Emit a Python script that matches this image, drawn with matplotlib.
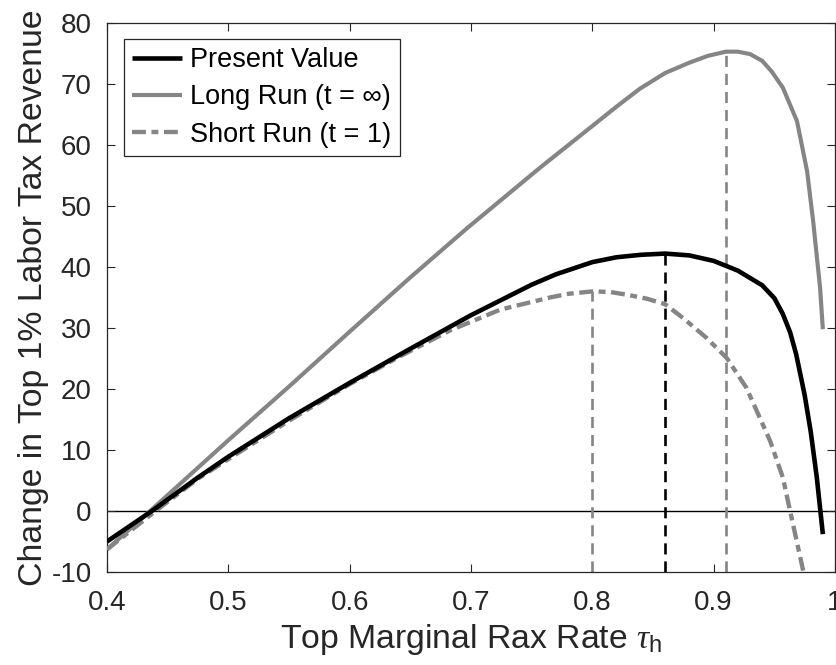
import matplotlib
matplotlib.use("Agg")
import matplotlib.pyplot as plt

plt.rcParams['font.family'] = ['Liberation Sans', 'DejaVu Sans']
plt.rcParams['axes.unicode_minus'] = False
plt.rcParams['lines.scale_dashes'] = False
plt.rcParams['mathtext.fontset'] = 'custom'
plt.rcParams['mathtext.rm'] = 'Liberation Sans'
plt.rcParams['mathtext.it'] = 'Liberation Serif:italic'

# ---- data ----
pv_x = [0.40, 0.437, 0.475, 0.50, 0.55, 0.60, 0.65, 0.70, 0.75, 0.77, 0.80, 0.82,
        0.84, 0.86, 0.88, 0.90, 0.92, 0.94, 0.95, 0.957, 0.963, 0.968, 0.975,
        0.98, 0.985, 0.99]
pv_y = [-5.0, 0.0, 5.5, 8.9, 15.2, 21.0, 26.6, 32.1, 37.1, 38.8, 40.8, 41.6,
        42.0, 42.2, 41.9, 41.0, 39.4, 37.0, 34.9, 32.3, 29.3, 25.7, 19.0,
        13.0, 5.5, -3.8]

lr_x = [0.40, 0.4355, 0.50, 0.55, 0.60, 0.65, 0.697, 0.757, 0.798, 0.82, 0.839,
        0.86, 0.88, 0.895, 0.91, 0.92, 0.93, 0.94, 0.948, 0.957, 0.9687, 0.977,
        0.982, 0.9877, 0.99]
lr_y = [-6.3, 0.0, 11.6, 20.4, 29.4, 38.3, 46.4, 56.3, 62.8, 66.3, 69.2,
        71.8, 73.5, 74.6, 75.3, 75.3, 74.9, 73.8, 72.0, 69.4, 63.9, 55.7,
        47.5, 36.6, 29.8]

sr_x = [0.40, 0.44, 0.475, 0.50, 0.55, 0.60, 0.64, 0.6827, 0.724, 0.765, 0.78,
        0.80, 0.815, 0.83, 0.845, 0.86, 0.875, 0.894, 0.9107, 0.927, 0.9465,
        0.957, 0.963, 0.974, 0.98]
sr_y = [-6.3, 0.0, 5.3, 8.5, 14.8, 20.8, 25.2, 29.6, 33.0, 35.0, 35.6,
        36.0, 35.9, 35.4, 34.8, 33.9, 31.6, 28.4, 25.1, 20.2, 11.5,
        5.5, 0.0, -10.0, -17.0]

peak_x = [0.80, 0.86, 0.91]          # short run, present value, long run maxima
peak_y = [36.0, 42.2, 75.3]

labels = ['Present Value', 'Long Run (t = \u221e)', 'Short Run (t = 1)']
xticks = [0.4, 0.5, 0.6, 0.7, 0.8, 0.9, 1.0]
xticklabels = ['0.4', '0.5', '0.6', '0.7', '0.8', '0.9', '1']
yticks = [-10, 0, 10, 20, 30, 40, 50, 60, 70, 80]

# ---- figure ----
W, H = 837, 665
fig = plt.figure(figsize=(W / 100, H / 100), dpi=100)
ax = fig.add_axes([107 / W, 1 - 572 / H, (835 - 107) / W, (572 - 23) / H])

gray = '#858585'
dark = '#262626'
lw = 3.3

ax.axhline(0, color='black', lw=1.0, zorder=1)
vcols = [gray, 'black', gray]
for xv, yv, c in zip(peak_x, peak_y, vcols):
    ax.plot([xv, xv], [-10, yv], color=c, lw=1.9, dashes=(8, 5), zorder=2)

l1, = ax.plot(pv_x, pv_y, color='black', lw=lw, zorder=4, solid_capstyle='butt')
l2, = ax.plot(lr_x, lr_y, color=gray, lw=lw * 0.9, zorder=3, solid_capstyle='butt')
l3, = ax.plot(sr_x, sr_y, color=gray, lw=lw * 0.95, dashes=(10, 4, 5, 4), zorder=3)

ax.set_xlim(0.4, 1.0)
ax.set_ylim(-10, 80)
ax.set_xticks(xticks)
ax.set_xticklabels(xticklabels)
ax.set_yticks(yticks)
ax.tick_params(direction='in', length=6, width=0.8, colors=dark, labelsize=20,
               top=True, right=True)
ax.tick_params(axis='x', pad=13)
ax.tick_params(axis='y', pad=11)
for s in ax.spines.values():
    s.set_color(dark)
    s.set_linewidth(0.9)

ax.set_xlabel(r'Top Marginal Rax Rate $\tau_\mathrm{h}$', fontsize=24.3, color=dark, labelpad=4)
ax.set_ylabel('Change in Top 1% Labor Tax Revenue', fontsize=24.3, color=dark, labelpad=2)

leg = ax.legend([l1, l2, l3], labels, loc='upper left',
                bbox_to_anchor=(0.0234, 0.971), borderaxespad=0,
                fontsize=19.5, handlelength=1.85, handletextpad=0.3,
                labelspacing=0.42, borderpad=0.3, fancybox=False,
                framealpha=1, edgecolor=dark)
leg.get_frame().set_linewidth(0.9)
for t in leg.get_texts():
    t.set_color('black')

fig.savefig('out.png', dpi=100)
